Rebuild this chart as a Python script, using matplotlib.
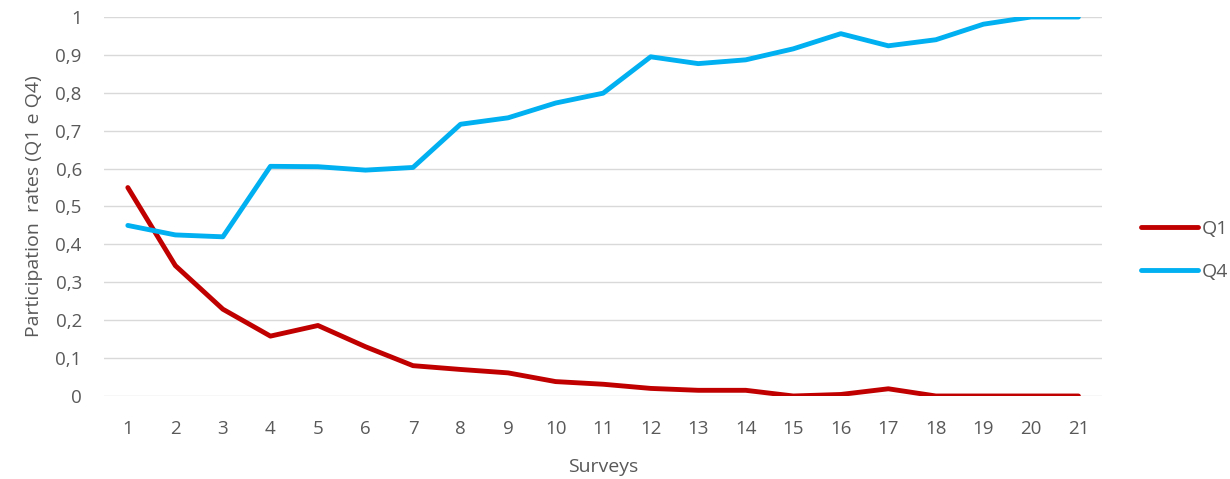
import matplotlib.pyplot as plt
from matplotlib.ticker import FuncFormatter

surveys = list(range(1, 22))
q1 = [0.550, 0.344, 0.229, 0.158, 0.186, 0.130, 0.080, 0.070, 0.061, 0.038, 0.031,
      0.020, 0.015, 0.015, 0.000, 0.004, 0.019, 0.000, 0.000, 0.000, 0.000]
q4 = [0.450, 0.425, 0.420, 0.606, 0.605, 0.596, 0.603, 0.717, 0.734, 0.773, 0.799,
      0.895, 0.877, 0.887, 0.916, 0.956, 0.924, 0.940, 0.981, 1.000, 1.000]
yticks = [i / 10 for i in range(11)]

plt.rcParams['font.family'] = ['Open Sans', 'DejaVu Sans']
txt = '#595959'

fig = plt.figure(figsize=(12.3, 4.79), dpi=100)
ax = fig.add_axes([0.0846, 0.1733, 0.8115, 0.7912])

ax.plot(surveys, q1, color='#C00000', lw=3.5, label='Q1', solid_capstyle='round')
ax.plot(surveys, q4, color='#00B0F0', lw=3.5, label='Q4', solid_capstyle='round')

ax.set_xlim(0.5, 21.5)
ax.set_ylim(0, 1)
ax.set_xticks(surveys)
ax.set_yticks(yticks)
ax.yaxis.set_major_formatter(FuncFormatter(lambda v, p: f'{v:g}'.replace('.', ',')))
ax.grid(axis='y', color='#D9D9D9', lw=1)
ax.set_axisbelow(True)
for s in ax.spines.values():
    s.set_visible(False)
ax.tick_params(length=0, labelsize=13.5, colors=txt)
ax.tick_params(axis='x', pad=17)
ax.tick_params(axis='y', pad=16)

ax.set_xlabel('Surveys', fontsize=14, color=txt, labelpad=15)
ax.set_ylabel('Participation  rates (Q1 e Q4)', fontsize=14, color=txt, labelpad=9)

leg = ax.legend(loc='center left', bbox_to_anchor=(1.039, 0.384), frameon=False,
                fontsize=14, handlelength=2.9, handletextpad=0.2, labelspacing=1.3,
                borderpad=0, borderaxespad=0)
for t in leg.get_texts():
    t.set_color(txt)

fig.savefig('out.png', dpi=100)
